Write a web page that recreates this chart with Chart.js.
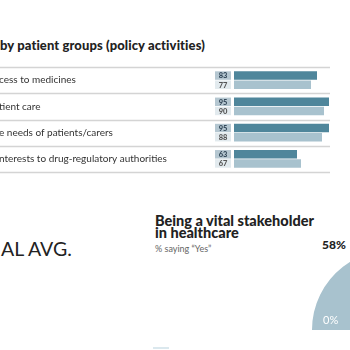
<!DOCTYPE html>
<html>
<head>
<meta charset="utf-8">
<script src="https://cdn.jsdelivr.net/npm/chart.js@4"></script>
<style>
  html, body { margin: 0; padding: 0; background: #fff; }
  #page { position: relative; width: 350px; height: 350px; overflow: hidden; font-family: Lato, "Open Sans", sans-serif; }
  #title { position: absolute; left: 0; top: 37px; font-size: 13px; font-weight: 900; color: #222; white-space: nowrap; letter-spacing: 0.1px; }
  #barWrap { position: absolute; left: 0; top: 0; width: 350px; height: 180px; }
  #avg { position: absolute; left: 1px; top: 237px; font-size: 19.5px; color: #222; white-space: nowrap; }
  #gTitle { position: absolute; left: 155px; top: 215px; font-size: 14.5px; font-weight: 900; line-height: 12px; color: #222; white-space: nowrap; }
  #gSub { position: absolute; left: 155px; top: 243px; font-size: 9px; color: #666; white-space: nowrap; }
  #gaugeWrap { position: absolute; left: 312px; top: 250px; width: 160px; height: 80px; }
  #gVal { position: absolute; left: 322px; top: 237px; font-size: 12px; font-weight: 900; color: #222; }
  #gZero { position: absolute; left: 323px; top: 313px; font-size: 11px; color: #fff; z-index: 2; }
  #dash { position: absolute; left: 153px; top: 347px; width: 16px; height: 2px; background: #dbe8ee; }
</style>
</head>
<body>
<div id="page">
  <div id="title">by patient groups (policy activities)</div>
  <div id="barWrap"><canvas id="groupBars"></canvas></div>
  <div id="avg">AL AVG.</div>
  <div id="gTitle">Being a vital stakeholder<br>in healthcare</div>
  <div id="gSub">% saying “Yes”</div>
  <div id="gVal"></div>
  <div id="gaugeWrap"><canvas id="gauge"></canvas></div>
  <div id="gZero">0%</div>
  <div id="dash"></div>
</div>
<script>
const activities = [
  "cess to medicines",
  "tient care",
  "e needs of patients/carers",
  "nterests to drug-regulatory authorities"
];
const firstValues = [83, 95, 95, 63];
const secondValues = [77, 90, 88, 67];
const gaugeValue = 58;
const gaugeMin = "0%";

const darkBlue = "#4f869b";
const lightBlue = "#a8c2ce";

// labels, row lines and number boxes
const tablePlugin = {
  id: "tablePlugin",
  afterDatasetsDraw(chart) {
    const ctx = chart.ctx;
    const y = chart.scales.y;
    const area = chart.chartArea;
    const step = (area.bottom - area.top) / activities.length;
    ctx.save();
    ctx.strokeStyle = "#d4d4d4";
    ctx.lineWidth = 1.3;
    for (let i = 0; i <= activities.length; i++) {
      const ly = Math.round(area.top + i * step) + 0.5;
      ctx.beginPath();
      ctx.moveTo(0, ly);
      ctx.lineTo(330, ly);
      ctx.stroke();
    }
    ctx.font = "10px Lato, 'Open Sans', sans-serif";
    ctx.fillStyle = "#333";
    ctx.textBaseline = "middle";
    activities.forEach((label, i) => {
      ctx.textAlign = "left";
      ctx.fillText(label, -1, y.getPixelForValue(i));
    });
    const boxStyles = [["#b5c7d1", "#34495a"], ["#e2eaee", "#555"]];
    chart.data.datasets.forEach((ds, di) => {
      const meta = chart.getDatasetMeta(di);
      meta.data.forEach((bar, i) => {
        const h = bar.height;
        ctx.fillStyle = boxStyles[di][0];
        ctx.fillRect(215, bar.y - h / 2, 16, h);
        ctx.fillStyle = boxStyles[di][1];
        ctx.font = "900 7.5px Lato, sans-serif";
        ctx.textAlign = "center";
        ctx.fillText(ds.data[i], 223, bar.y + 0.5);
      });
    });
    ctx.restore();
  }
};

new Chart(document.getElementById("groupBars"), {
  type: "bar",
  data: {
    labels: activities,
    datasets: [
      { label: "first", data: firstValues, backgroundColor: darkBlue },
      { label: "second", data: secondValues, backgroundColor: lightBlue }
    ]
  },
  options: {
    indexAxis: "y",
    responsive: true,
    maintainAspectRatio: false,
    animation: false,
    categoryPercentage: 0.7,
    barPercentage: 0.92,
    layout: { padding: { left: 234, right: 16, top: 67, bottom: 8 } },
    plugins: { legend: { display: false }, tooltip: { enabled: false } },
    scales: {
      x: { display: false, min: 0, max: 100 },
      y: { display: false }
    }
  },
  plugins: [tablePlugin]
});

document.getElementById("gVal").textContent = gaugeValue + "%";
document.getElementById("gZero").textContent = gaugeMin;

new Chart(document.getElementById("gauge"), {
  type: "pie",
  data: {
    labels: ["Yes", "Other"],
    datasets: [{
      data: [gaugeValue, 100 - gaugeValue],
      backgroundColor: [lightBlue, "#e4ecf0"],
      borderWidth: 0
    }]
  },
  options: {
    responsive: true,
    maintainAspectRatio: false,
    animation: false,
    rotation: -90,
    circumference: 180,
    plugins: { legend: { display: false }, tooltip: { enabled: false } }
  }
});
</script>
</body>
</html>
